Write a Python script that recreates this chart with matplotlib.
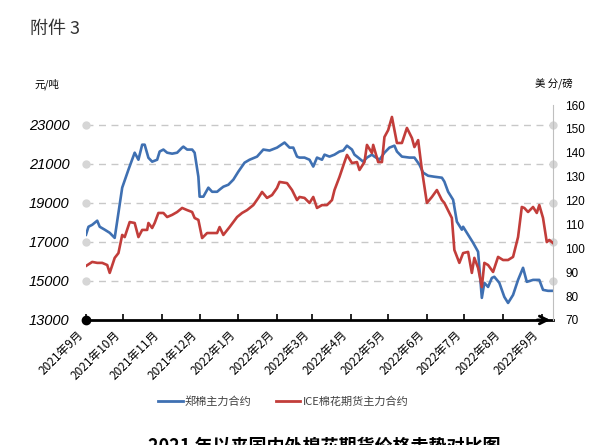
import pandas as pd
import matplotlib
matplotlib.use('Agg')
import matplotlib.pyplot as plt
import matplotlib.transforms as mtransforms

plt.rcParams['font.family'] = ['Noto Sans CJK SC', 'DejaVu Sans']

# 郑棉主力合约, 元/吨 (天数从 2021-09-01 起算)
zc_days = [0, 2, 5, 9, 11, 15, 19, 23, 29, 34, 39, 42, 45, 47, 50, 53, 57, 59, 62, 65,
           69, 73, 77, 78, 81, 85, 87, 90, 91, 94, 98, 101, 105, 107, 110, 114, 118, 122,
           127, 131, 137, 142, 147, 153, 159, 163, 166, 169, 171, 175, 179, 182, 185, 189,
           191, 195, 199, 203, 206, 209, 213, 215, 218, 222, 225, 229, 231, 235, 239, 243,
           247, 249, 253, 259, 263, 267, 270, 274, 279, 285, 287, 290, 294, 297, 301, 302,
           306, 310, 314, 317, 319, 322, 325, 327, 331, 335, 338, 342, 346, 350, 353, 358,
           363, 366, 370, 373]
zc_price = [17360, 17770, 17870, 18080, 17770, 17620, 17460, 17200, 19770, 20690, 21560,
            21200, 21970, 21970, 21300, 21100, 21200, 21620, 21720, 21560, 21510, 21560,
            21820, 21870, 21720, 21720, 21560, 20330, 19310, 19310, 19770, 19560, 19560,
            19670, 19820, 19920, 20180, 20590, 21050, 21200, 21360, 21720, 21670, 21820,
            22080, 21820, 21820, 21360, 21310, 21310, 21200, 20850, 21310, 21200, 21460,
            21360, 21460, 21620, 21670, 21920, 21720, 21460, 21310, 21100, 21310, 21460,
            21360, 21200, 21560, 21820, 21920, 21620, 21360, 21310, 21310, 20950, 20540,
            20380, 20330, 20280, 20080, 19560, 19150, 18030, 17620, 17770, 17360, 16950,
            16490, 14130, 14900, 14690, 15150, 15210, 14900, 14180, 13870, 14280, 15050,
            15670, 14950, 15050, 15050, 14540, 14490, 14490]

# ICE棉花期货主力合约, 美分/磅
ice_days = [0, 5, 9, 13, 17, 19, 23, 26, 29, 31, 35, 39, 42, 45, 49, 50, 53, 55, 58, 62,
            65, 69, 73, 77, 81, 85, 87, 90, 93, 97, 101, 105, 107, 110, 115, 121, 125, 129,
            134, 138, 141, 145, 149, 153, 155, 161, 165, 169, 171, 175, 179, 182, 185, 189,
            193, 197, 199, 203, 207, 209, 213, 217, 219, 223, 225, 229, 230, 234, 237, 239,
            242, 245, 249, 253, 257, 261, 263, 266, 269, 273, 277, 281, 285, 287, 293, 295,
            299, 302, 306, 309, 311, 314, 317, 319, 322, 326, 330, 334, 338, 342, 346, 349,
            351, 354, 358, 361, 363, 366, 369, 371, 374]
ice_price = [92.6, 94.3, 93.9, 93.9, 93.0, 89.7, 96.0, 98.0, 105.6, 104.7, 111.0, 110.6,
             104.7, 107.7, 107.7, 110.6, 108.5, 110.6, 114.8, 114.8, 113.1, 114.0, 115.2,
             116.9, 116.0, 115.2, 112.7, 111.9, 104.3, 106.4, 106.4, 106.4, 108.9, 105.6,
             108.9, 113.1, 114.8, 116.0, 118.1, 121.1, 123.6, 121.1, 122.3, 125.3, 127.8,
             127.3, 124.4, 120.2, 121.5, 121.1, 119.0, 121.5, 116.9, 118.1, 118.1, 120.2,
             124.4, 129.9, 136.1, 139.1, 135.7, 136.1, 132.8, 136.1, 143.3, 139.9, 143.3,
             136.1, 136.1, 146.6, 149.5, 155.0, 144.1, 144.1, 150.4, 146.2, 142.4, 145.3,
             132.8, 119.0, 121.5, 124.4, 120.2, 119.0, 112.7, 99.3, 93.9, 98.0, 98.5, 89.7,
             96.0, 91.8, 83.8, 93.9, 93.0, 90.1, 96.4, 95.1, 95.1, 96.4, 104.7, 117.3, 116.9,
             115.2, 117.3, 114.8, 118.1, 112.7, 102.6, 103.5, 102.2]

month_labels = ['2021年9月', '2021年10月', '2021年11月', '2021年12月', '2022年1月',
                '2022年2月', '2022年3月', '2022年4月', '2022年5月', '2022年6月',
                '2022年7月', '2022年8月', '2022年9月']

start = pd.Timestamp('2021-09-01')
zc_x = start + pd.to_timedelta(zc_days, unit='D')
ice_x = start + pd.to_timedelta(ice_days, unit='D')
month_ticks = pd.date_range('2021-09-01', periods=len(month_labels), freq='MS')

blue = '#3F70B2'
red = '#C23D3A'
grey = '#BFBFBF'

fig = plt.figure(figsize=(6, 4.45), dpi=100)
ax = fig.add_axes([0.1433, 0.281, 0.7784, 0.483])
ax2 = ax.twinx()

ax.plot(zc_x, zc_price, color=blue, lw=1.9, zorder=3)
ax2.plot(ice_x, ice_price, color=red, lw=1.9, zorder=3)

x_end = start + pd.Timedelta(days=374)
ax.set_xlim(start, x_end)
ax.set_ylim(13000, 24000)
ax.set_yticks(range(13000, 24000, 2000))
ax2.set_ylim(70, 160)
ax2.set_yticks(range(70, 161, 10))

# 网格虚线及两端的灰点
for v in range(15000, 24000, 2000):
    ax.axhline(v, color='#C8C8C8', lw=1, ls=(0, (5, 4)), zorder=1)
    ax.plot([0, 1], [(v - 13000) / 11000] * 2, 'o', color='#D6D6D6', ms=5,
            transform=ax.transAxes, clip_on=False, zorder=2, ls='none')

for s in ['left', 'top']:
    ax.spines[s].set_visible(False)
    ax2.spines[s].set_visible(False)
ax.spines['right'].set_visible(False)
ax2.spines['bottom'].set_visible(False)
ax2.spines['right'].set_color(grey)
ax.spines['bottom'].set_linewidth(2)
ax.spines['bottom'].set_color('black')

# x轴起点圆点和终点箭头
ax.plot([0], [0], 'o', color='black', ms=6, transform=ax.transAxes, clip_on=False, zorder=5)
ax.annotate('', xy=(1.0, 0), xytext=(0.96, 0), xycoords='axes fraction',
            arrowprops=dict(arrowstyle='->', lw=2, color='black', mutation_scale=14))

ax.set_xticks(month_ticks)
ax.set_xticklabels(month_labels, rotation=45, ha='right', rotation_mode='anchor', fontsize=8.5)
ax.tick_params(axis='x', direction='in', length=4, width=1.2, pad=6)
ax.tick_params(axis='y', length=0, pad=12)
ax2.tick_params(axis='y', length=0, pad=9)

shift = mtransforms.ScaledTranslation(-7 / 72, 0, fig.dpi_scale_trans)
for lab in ax.get_xticklabels():
    lab.set_transform(lab.get_transform() + shift)

for lab in ax.get_yticklabels():
    lab.set_fontfamily('Liberation Sans')
    lab.set_fontstyle('italic')
    lab.set_fontsize(10.5)
for lab in ax2.get_yticklabels():
    lab.set_fontfamily('Liberation Sans')
    lab.set_fontsize(8.5)

fig.text(0.05, 0.935, '附件 3', fontsize=13, color='#333333', va='center')
fig.text(0.058, 0.81, '元/吨', fontsize=7.5, va='center')
fig.text(0.892, 0.81, '美 分/磅', fontsize=7.5, va='center')

h1, = ax.plot([], [], color=blue, lw=2)
h2, = ax.plot([], [], color=red, lw=2)
fig.legend([h1, h2], ['郑棉主力合约', 'ICE棉花期货主力合约'], loc='center',
           bbox_to_anchor=(0.472, 0.097), ncol=2, frameon=False, fontsize=8,
           handlelength=2.2, handletextpad=0.2, columnspacing=2.2, labelcolor='#404040')

fig.text(0.54, 0.02, '2021 年以来国内外棉花期货价格走势对比图', fontsize=13,
         fontweight='bold', ha='center', va='top')

fig.savefig('out.png', dpi=100)
